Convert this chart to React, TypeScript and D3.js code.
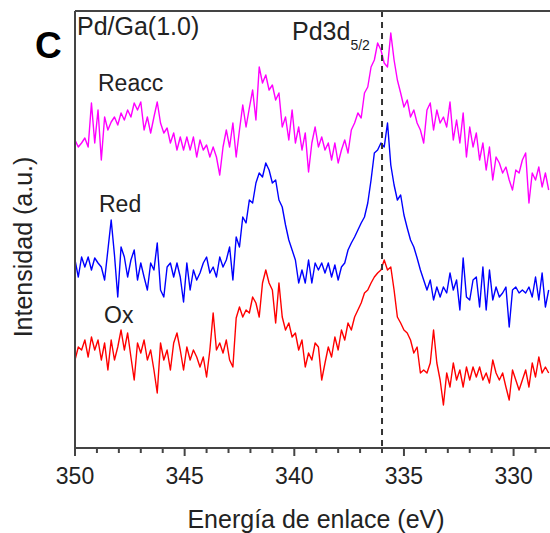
import React from "react";
import * as d3 from "d3";

// Binding energy grid (eV)
const energies = [
  350, 349.85, 349.7, 349.55, 349.4, 349.25, 349.1, 348.95, 348.8, 348.65,
  348.5, 348.35, 348.2, 348.05, 347.9, 347.75, 347.6, 347.45, 347.3, 347.15,
  347, 346.85, 346.7, 346.55, 346.4, 346.25, 346.1, 345.95, 345.8, 345.65,
  345.5, 345.35, 345.2, 345.05, 344.9, 344.75, 344.6, 344.45, 344.3, 344.15,
  344, 343.85, 343.7, 343.55, 343.4, 343.25, 343.1, 342.95, 342.8, 342.65,
  342.5, 342.35, 342.2, 342.05, 341.9, 341.75, 341.6, 341.45, 341.3, 341.15,
  341, 340.85, 340.7, 340.55, 340.4, 340.25, 340.1, 339.95, 339.8, 339.65,
  339.5, 339.35, 339.2, 339.05, 338.9, 338.75, 338.6, 338.45, 338.3, 338.15,
  338, 337.85, 337.7, 337.55, 337.4, 337.25, 337.1, 336.95, 336.8, 336.65,
  336.5, 336.35, 336.2, 336.05, 335.9, 335.75, 335.6, 335.45, 335.3, 335.15,
  335, 334.85, 334.7, 334.55, 334.4, 334.25, 334.1, 333.95, 333.8, 333.65,
  333.5, 333.35, 333.2, 333.05, 332.9, 332.75, 332.6, 332.45, 332.3, 332.15,
  332, 331.85, 331.7, 331.55, 331.4, 331.25, 331.1, 330.95, 330.8, 330.65,
  330.5, 330.35, 330.2, 330.05, 329.9, 329.75, 329.6, 329.45, 329.3, 329.15,
  329, 328.85, 328.7, 328.55, 328.4,
];

// Intensities (a.u., offset spectra as plotted)
const reacc = [
  308, 301, 305, 310, 301, 345, 305, 338, 288, 331,
  318, 326, 331, 323, 335, 328, 338, 331, 345, 338,
  346, 318, 331, 315, 331, 346, 325, 315, 320, 305,
  315, 298, 311, 298, 311, 298, 311, 291, 308, 298,
  303, 291, 301, 291, 273, 301, 318, 301, 325, 291,
  318, 343, 321, 340, 358, 328, 381, 365, 373, 358,
  363, 348, 355, 321, 331, 308, 338, 305, 321, 298,
  315, 276, 305, 321, 301, 311, 298, 305, 288, 305,
  285, 298, 308, 295, 318, 325, 335, 330, 355, 361,
  381, 388, 405, 398, 385, 381, 415, 388, 368, 355,
  341, 348, 331, 338, 325, 318, 305, 338, 345, 318,
  338, 325, 331, 321, 346, 308, 328, 305, 335, 291,
  321, 301, 315, 288, 305, 278, 301, 268, 291, 285,
  275, 281, 268, 258, 278, 275, 288, 295, 245, 275,
  268, 281, 261, 275, 258,
];

const red = [
  188, 171, 191, 181, 191, 178, 190, 185, 181, 168,
  198, 228, 193, 151, 201, 191, 171, 188, 198, 168,
  185, 171, 158, 185, 178, 205, 158, 151, 181, 185,
  171, 185, 171, 146, 185, 158, 178, 168, 175, 185,
  191, 175, 181, 171, 191, 181, 188, 201, 168, 211,
  201, 231, 225, 248, 245, 265, 275, 271, 285, 278,
  265, 268, 248, 241, 223, 208, 198, 188, 165, 178,
  165, 188, 165, 185, 178, 185, 175, 185, 171, 183,
  168, 181, 185, 198, 205, 211, 218, 225, 231, 245,
  268, 295, 298, 305, 301, 325, 283, 263, 248, 253,
  233, 220, 208, 201, 190, 178, 168, 158, 168, 148,
  161, 151, 161, 155, 175, 158, 168, 138, 190, 151,
  148, 168, 171, 141, 181, 138, 178, 148, 161, 151,
  155, 161, 121, 158, 161, 155, 158, 155, 161, 151,
  171, 148, 175, 141, 158,
];

const ox = [
  88, 101, 98, 108, 91, 111, 98, 108, 88, 105,
  78, 108, 88, 101, 118, 98, 115, 91, 68, 105,
  95, 108, 88, 98, 78, 55, 105, 88, 98, 78,
  105, 115, 98, 78, 101, 88, 98, 91, 81, 91,
  71, 98, 135, 98, 105, 95, 108, 88, 81, 130,
  141, 131, 138, 135, 151, 145, 131, 165, 178, 165,
  158, 125, 165, 131, 118, 125, 111, 115, 98, 108,
  81, 95, 88, 105, 101, 68, 85, 101, 91, 111,
  98, 118, 108, 125, 118, 131, 138, 145, 155, 158,
  165, 171, 175, 178, 188, 178, 181, 158, 131, 125,
  118, 115, 108, 95, 101, 75, 78, 75, 85, 118,
  85, 68, 43, 75, 61, 85, 68, 78, 61, 81,
  68, 81, 71, 81, 68, 75, 65, 88, 75, 68,
  75, 61, 48, 78, 68, 58, 68, 78, 61, 85,
  71, 91, 75, 81, 75,
];

const seriesNames = ["Reacc", "Red", "Ox"];
const seriesColors = ["#ff00ff", "#0000ff", "#ff0000"];
const majorTicks = [350, 345, 340, 335, 330];
const minorTicks = [349, 348, 347, 346, 344, 343, 342, 341, 339, 338, 337, 336, 334, 333, 332, 331, 329];
const refLine = 336;

const W = 550;
const H = 533;
const left = 75;
const top = 11;
const bottom = 448;
const FONT = "'Liberation Sans', Arial, Helvetica, sans-serif";

export default function App() {
  const x = d3.scaleLinear().domain([350, 328]).range([left, left + 22 * 21.93]);
  const y = d3.scaleLinear().domain([0, 437]).range([bottom, top]);
  const line = d3
    .line<[number, number]>()
    .x((d) => x(d[0]))
    .y((d) => y(d[1]));
  const data = [reacc, red, ox];

  return (
    <svg
      width={W}
      height={H}
      style={{ position: "absolute", left: 0, top: 0, background: "#fff" }}
      fontFamily={FONT}
    >
      <defs>
        <clipPath id="plot">
          <rect x={left} y={top} width={W - left} height={bottom - top} />
        </clipPath>
      </defs>

      {/* spectra */}
      <g clipPath="url(#plot)">
        {data.map((vals, i) => (
          <path
            key={seriesNames[i]}
            d={line(energies.map((e, j) => [e, vals[j]] as [number, number])) || ""}
            fill="none"
            stroke={seriesColors[i]}
            strokeWidth={1.4}
            strokeLinejoin="round"
          />
        ))}
      </g>

      {/* reference dashed line */}
      <line
        x1={x(refLine)}
        x2={x(refLine)}
        y1={top}
        y2={bottom}
        stroke="#333"
        strokeWidth={2}
        strokeDasharray="6,5"
      />

      {/* frame */}
      <line x1={left} x2={W} y1={top} y2={top} stroke="#444" strokeWidth={2} />
      <line x1={left} x2={left} y1={top} y2={bottom} stroke="#444" strokeWidth={2} />
      <line x1={left} x2={W} y1={bottom} y2={bottom} stroke="#444" strokeWidth={2} />

      {/* ticks */}
      {majorTicks.map((t) => (
        <g key={"M" + t}>
          <line x1={x(t)} x2={x(t)} y1={bottom} y2={bottom + 8} stroke="#444" strokeWidth={2} />
          <text x={x(t)} y={484} fontSize={23} textAnchor="middle" fill="#222">
            {t}
          </text>
        </g>
      ))}
      {minorTicks.map((t) => (
        <line key={"m" + t} x1={x(t)} x2={x(t)} y1={bottom} y2={bottom + 5} stroke="#444" strokeWidth={2} />
      ))}

      {/* axis titles */}
      <text x={316} y={528} fontSize={25} textAnchor="middle" fill="#222">
        Energía de enlace (eV)
      </text>
      <text
        transform="translate(32,247) rotate(-90)"
        fontSize={25}
        textAnchor="middle"
        fill="#222"
      >
        Intensidad (a.u.)
      </text>

      {/* annotations */}
      <text x={35} y={58} fontSize={37} fontWeight="bold" fill="#000">
        C
      </text>
      <text x={77} y={35} fontSize={25} fill="#222">
        Pd/Ga(1.0)
      </text>
      <text x={292} y={40} fontSize={25} fill="#222">
        Pd3d
        <tspan fontSize={14} dy={10}>
          5/2
        </tspan>
      </text>
      <text x={98} y={91} fontSize={23} fill="#222">
        {seriesNames[0]}
      </text>
      <text x={99} y={212} fontSize={23} fill="#222">
        {seriesNames[1]}
      </text>
      <text x={104} y={323} fontSize={23} fill="#222">
        {seriesNames[2]}
      </text>
    </svg>
  );
}
